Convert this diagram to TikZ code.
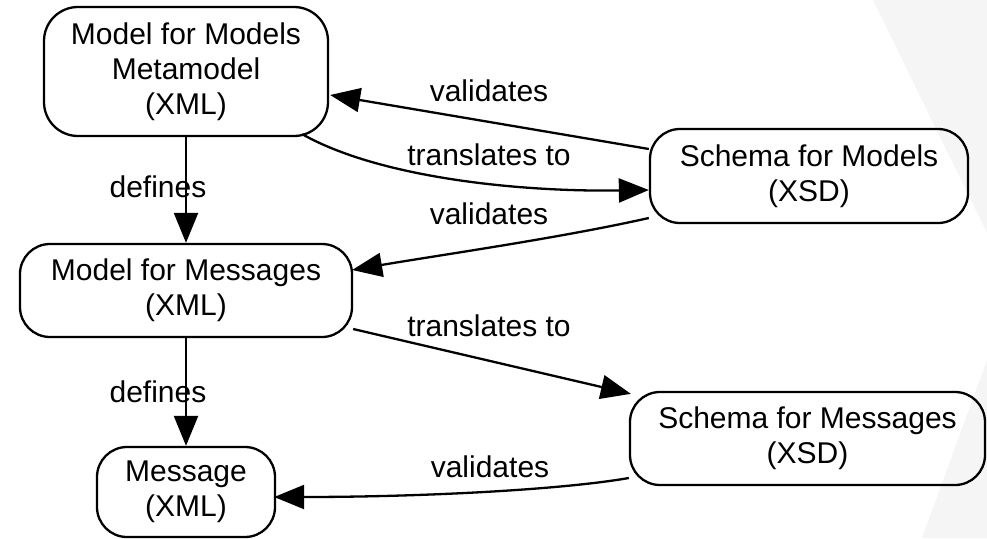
\documentclass[tikz,border=0pt]{standalone}
\usepackage{fontspec}
\setmainfont{Liberation Sans}
\usetikzlibrary{arrows.meta,calc}
\begin{document}
\begin{tikzpicture}[x=1pt,y=-1pt,
  box/.style={draw=black, line width=2.3pt, rounded corners=30pt, align=center, inner sep=0pt,
    font=\fontsize{30}{35}\selectfont},
  lbl/.style={inner sep=0pt, font=\fontsize{30}{35}\selectfont},
  conn/.style={line width=2.3pt, -{Triangle[length=30pt,width=24pt]}}]
\useasboundingbox (0,0) rectangle (987,538);
\fill[black!4] (873,0) -- (987,0) -- (987,233) -- cycle;
\fill[black!4] (987,360) -- (987,538) -- (922,538) -- cycle;
% nodes
\node[box, minimum width=284pt, minimum height=129pt, rounded corners=34pt] (n1) at (186,71.5) {Model for Models\\Metamodel\\(XML)};
\node[box, minimum width=318pt, minimum height=94pt] (n2) at (809,176) {Schema for Models\\(XSD)};
\node[box, minimum width=332pt, minimum height=93pt] (n3) at (186,290.5) {Model for Messages\\(XML)};
\node[box, minimum width=355pt, minimum height=93pt] (n4) at (807.5,438.5) {Schema for Messages\\(XSD)};
\node[box, minimum width=178pt, minimum height=90pt] (n5) at (186,492) {Message\\(XML)};
% connectors
\draw[conn] (n1.south) -- (n3.north);
\node[lbl] (d1) at (158,187) {defines};
\draw[conn] (n3.south) -- (n5.north);
\node[lbl] (d2) at (158,392) {defines};
\draw[conn] ($(n2.west)+(0,-27)$) -- ($(n1.east)+(1,23.5)$);
\node[lbl] (v1) at (489,91) {validates};
\draw[conn] ($(n1.south east)+(-27,-3)$) .. controls (380,178) and (520,192) .. ($(n2.west)+(0,14)$);
\node[lbl] (t1) at (489,155) {translates to};
\draw[conn] ($(n2.west)+(0,42)$) .. controls (560,238) and (440,255) .. ($(n3.east)+(-1,-20.5)$);
\node[lbl] (v2) at (489,214) {validates};
\draw[conn] ($(n3.east)+(0,38.5)$) -- ($(n4.north west)+(2,3)$);
\node[lbl] (t2) at (489,326) {translates to};
\draw[conn] ($(n4.west)+(0,39.5)$) .. controls (560,490) and (420,497) .. ($(n5.east)+(-2,5)$);
\node[lbl] (v3) at (490,467) {validates};
\end{tikzpicture}
\end{document}
